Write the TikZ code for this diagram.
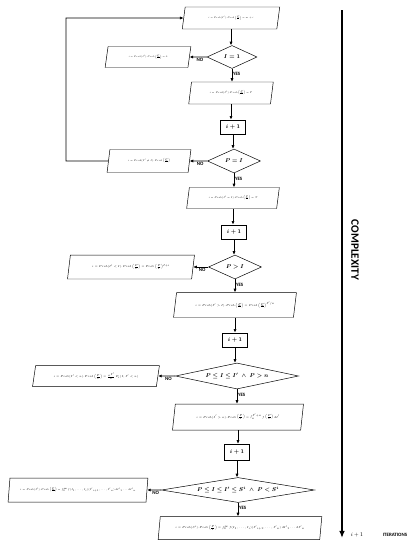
\documentclass[tikz,border=0pt]{standalone}
\usepackage{amsmath}
\usepackage{graphicx}
\usepackage{fontspec}
\setsansfont{Carlito}
\usetikzlibrary{shapes.geometric,arrows.meta}

% formula text inside the parallelograms
\newcommand{\eqsmall}[2][0.75]{\scalebox{#1}{$#2$}}

\begin{document}
\begin{tikzpicture}[
    x=0.05cm, y=-0.05cm,
    font=\footnotesize,
    >={Latex[length=5pt,width=4.5pt]},
    flow/.style={->, line width=0.9pt},
    io/.style={trapezium, trapezium left angle=75, trapezium right angle=105,
        trapezium stretches=true, draw, line width=0.7pt, inner sep=1pt,
        font=\fontsize{5}{6}\selectfont},
    test/.style={diamond, draw, line width=0.7pt, inner sep=0pt, font=\footnotesize\boldmath},
    incr/.style={rectangle, draw, line width=0.8pt, minimum width=1.25cm,
        minimum height=0.72cm, font=\footnotesize\boldmath},
    tag/.style={font=\sffamily\bfseries\scriptsize, inner sep=1pt},
]
\useasboundingbox (0,0) rectangle (419,550);

% First level
\node[io, minimum width=4.9cm, minimum height=1.1cm] (io1) at (231,18)
    {\eqsmall[0.65]{i = Prob(I').Prob\left(\frac{P}{T}\right) = m + i}};
\node[test, aspect=2.2, minimum width=2.5cm, minimum height=1.15cm] (test1) at (232,57) {$I = 1$};
\node[io, minimum width=4.3cm, minimum height=1.05cm] (io2) at (148,57)
    {\eqsmall[0.65]{i = Prob(I').Prob\left(\frac{P}{T}\right) = 0}};
\node[io, minimum width=4.25cm, minimum height=1.1cm] (io3) at (231,93)
    {\eqsmall[0.7]{i = Prob(I').Prob\left(\frac{P}{T}\right) = T}};
\node[incr] (inc1) at (233,127) {$i + 1$};

% Second level
\node[test, aspect=2.2, minimum width=2.65cm, minimum height=1.2cm] (test2) at (234,161) {$P = I$};
\node[io, minimum width=4.2cm, minimum height=1.15cm] (io4) at (149,161)
    {\eqsmall[0.7]{i = Prob(I' \neq I).Prob\left(\frac{P}{T}\right)}};
\node[io, minimum width=4.65cm, minimum height=1.05cm] (io5) at (233,198)
    {\eqsmall[0.7]{i = Prob(I' = I).Prob\left(\frac{P}{T}\right) = T}};
\node[incr] (inc2) at (234,232) {$i + 1$};

% Third level
\node[test, aspect=2.2, minimum width=2.65cm, minimum height=1.2cm] (test3) at (235,267) {$P > I$};
\node[io, minimum width=6.35cm, minimum height=1.2cm] (io6) at (131,267)
    {\eqsmall[0.8]{i = Prob(I' < I).Prob\left(\frac{P}{T}\right) = Prob\left(\frac{P}{T}\right)^{I+i}}};
\node[io, minimum width=6.15cm, minimum height=1.25cm] (io7) at (235,305)
    {\eqsmall[0.8]{i = Prob(I' > I).Prob\left(\frac{P}{T}\right) = Prob\left(\frac{P}{T}\right)^{I'/n}}};
\node[incr] (inc3) at (235,340) {$i + 1$};

% Fourth level
\node[test, aspect=4.7, minimum width=6.15cm, minimum height=1.3cm] (test4) at (237,376)
    {$P \leq I \leq I' \;\wedge\; P > n$};
\node[io, minimum width=6.35cm, minimum height=1.05cm] (io8) at (96,376)
    {\eqsmall[0.8]{i = Prob(I' < n).Prob\left(\frac{P}{T}\right) = \frac{n^{I'}}{k}\,F_i(I, I' < n)}};
\node[io, minimum width=6.55cm, minimum height=1.3cm] (io9) at (238,417)
    {\eqsmall[0.8]{i = Prob(I' > n).Prob\left(\frac{P}{T}\right) = \int_{n}^{I'+n} f\left(\frac{P}{T}\right) dI'}};
\node[incr, minimum height=0.8cm] (inc4) at (237,452) {$i + 1$};

% Fifth level
\node[test, aspect=6.1, minimum width=7.65cm, minimum height=1.25cm] (test5) at (238,490)
    {$P \leq I \leq I' \leq S^i \;\wedge\; P < S^i$};
\node[io, minimum width=7cm, minimum height=1.2cm] (io10) at (78,490)
    {\eqsmall[0.72]{i = Prob(I').Prob\left(\frac{P}{T}\right) = \int_{0}^{\infty} f(I_1,\dots,I_i)({I'}_{i+1},\dots,{I'}_n)\,d{I'}_1\dots d{I'}_n}};
\node[io, minimum width=8.2cm, minimum height=1.15cm] (io11) at (240,528)
    {\eqsmall[0.8]{i = Prob(S^i).Prob\left(\frac{P}{T}\right) = \int_{0}^{\infty} f(I_1,\dots,I_i)({I'}_{i+1},\dots,{I'}_n)\,d{I'}_1\dots d{I'}_n}};

% Main flow
\draw[flow] (io1.south) -- (io1.south |- test1.north);
\draw[flow] (io3.south) -- (io3.south |- inc1.north);
\draw[flow] (inc1.south) -- (inc1.south |- test2.north);
\draw[flow] (io5.south) -- (io5.south |- inc2.north);
\draw[flow] (inc2.south) -- (inc2.south |- test3.north);
\draw[flow] (io7.south) -- (io7.south |- inc3.north);
\draw[flow] (inc3.south) -- (inc3.south |- test4.north);
\draw[flow] (io9.south) -- (io9.south |- inc4.north);
\draw[flow] (inc4.south) -- (inc4.south |- test5.north);

% YES branches
\draw[flow] (test1.south) -- (test1.south |- io3.north) node[tag, right, pos=0.4] {YES};
\draw[flow] (test2.south) -- (test2.south |- io5.north) node[tag, right, pos=0.4] {YES};
\draw[flow] (test3.south) -- (test3.south |- io7.north) node[tag, right, pos=0.4] {YES};
\draw[flow] (test4.south) -- (test4.south |- io9.north) node[tag, right, pos=0.4] {YES};
\draw[flow] (test5.south) -- (test5.south |- io11.north) node[tag, right, pos=0.4] {YES};

% NO branches
\draw[flow] (test1.west) -- (io2.east) node[tag, below, pos=0.4] {NO};
\draw[flow] (test2.west) -- (io4.east) node[tag, below, pos=0.4] {NO};
\draw[flow] (test3.west) -- (io6.east) node[tag, below, pos=0.4] {NO};
\draw[flow] (test4.west) -- (io8.east) node[tag, below, pos=0.4] {NO};
\draw[flow] (test5.west) -- (io10.east) node[tag, below, pos=0.4] {NO};

% Loop back to the start
\coordinate (back) at (66,161);
\draw[flow] (io4.west) -- (back) |- (io1.west);

% Complexity axis
\coordinate (axtop) at (342,10);
\coordinate (axend) at (342,538);
\draw[line width=2.2pt, -{Latex[length=10pt,width=8pt]}] (axtop) -- (axend);
\node[rotate=-90, font=\sffamily\bfseries\fontsize{16}{18}\selectfont] (cplx) at (355,250) {COMPLEXITY};
\node (step) at (357,535) {$i + 1$};
\node[tag] (iter) at (395,535) {ITERATIONS};

\end{tikzpicture}
\end{document}
